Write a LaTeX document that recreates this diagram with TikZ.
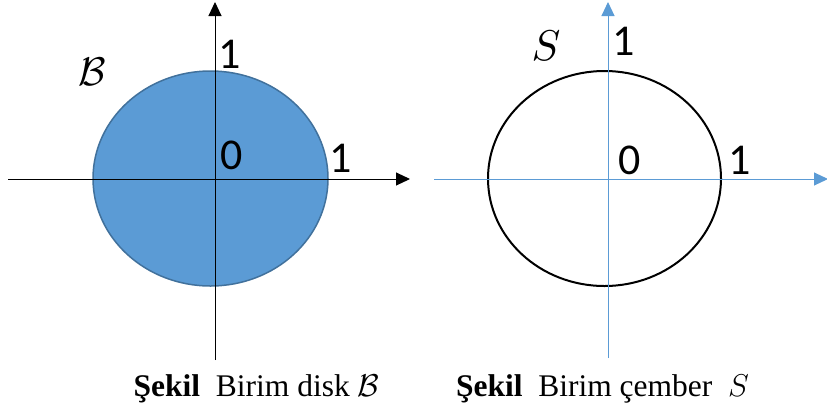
\documentclass[tikz,border=0pt]{standalone}
\usepackage{fix-cm}
\usepackage{fontspec}
\usepackage{graphicx}
\setmainfont{Liberation Serif}
\newfontfamily\digitfont{Carlito}
\usetikzlibrary{arrows.meta,shapes.geometric}
\definecolor{diskfill}{HTML}{5B9BD5}
\definecolor{diskedge}{HTML}{41719C}
\definecolor{axblue}{HTML}{5B9BD5}
\tikzset{
  num/.style={font=\digitfont\fontsize{44}{50}\selectfont, inner sep=0pt},
  blackaxis/.style={line width=1pt, black, -{Triangle[length=14pt,width=13pt]}},
  blueaxis/.style={line width=1pt, axblue, -{Triangle[length=14pt,width=13pt]}},
  caption/.style={font=\fontsize{31.5}{38}\selectfont, inner sep=0pt, anchor=base}
}
\begin{document}
\begin{tikzpicture}[x=1pt,y=-1pt]
\useasboundingbox (0,0) rectangle (827,413);
% left: unit disk
\node[ellipse, draw=diskedge, fill=diskfill, line width=1.5pt, minimum width=235pt, minimum height=215pt, inner sep=0pt] (disk) at (210.5,178.5) {};
\coordinate (lxs) at (8,179);
\coordinate (lxe) at (410,179);
\coordinate (lys) at (215,360);
\coordinate (lye) at (215,2);
\draw[blackaxis] (lxs) -- (lxe);
\draw[blackaxis] (lys) -- (lye);
\node[num] (l1t) at (230,54) {1};
\node[num] (l0) at (232,155) {0};
\node[num] (l1r) at (341,158) {1};
\node[inner sep=0pt, scale=4] (lB) at (92,72) {$\mathcal{B}$};
% right: unit circle
\node[ellipse, draw=black, line width=2pt, minimum width=233pt, minimum height=215pt, inner sep=0pt] (circ) at (604.5,178.5) {};
\coordinate (rxs) at (434,179);
\coordinate (rxe) at (828,179);
\coordinate (rys) at (608,358);
\coordinate (rye) at (608,2);
\draw[blueaxis] (rxs) -- (rxe);
\draw[blueaxis] (rys) -- (rye);
\node[num] (r1t) at (624,41) {1};
\node[num] (r0) at (630,160) {0};
\node[num] (r1r) at (740,160) {1};
\node[inner sep=0pt, scale=4.3] (rS) at (546,46) {$S$};
% captions
\node[caption] (capl) at (256.5,396) {\textbf{Şekil}\ \ Birim disk $\mathcal{B}$};
\node[caption] (capr) at (602.5,396) {\textbf{Şekil}\ \ Birim çember\ \ $S$};
\end{tikzpicture}
\end{document}
